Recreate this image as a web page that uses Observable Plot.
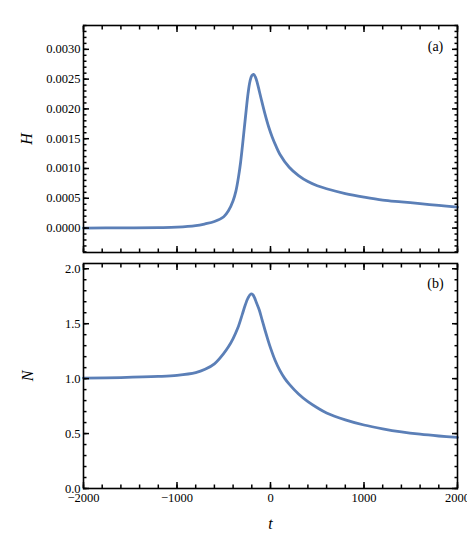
<!DOCTYPE html>
<html>
<head>
<meta charset="utf-8">
<script src="https://cdn.jsdelivr.net/npm/d3@7"></script>
<script src="https://cdn.jsdelivr.net/npm/@observablehq/plot@0.6"></script>
<style>
  html, body { margin: 0; padding: 0; background: #fff; }
  #chart svg { display: block; }
</style>
</head>
<body>
<div id="chart"></div>
<script>
// ---- data ----
const tH = [-2000, -1600, -1200, -1000, -800, -700, -600, -500, -450, -400, -370, -340, -320, -300, -280, -260, -240, -220, -200, -180, -160, -140, -120, -100, -60, -20, 20, 60, 100, 200, 300, 400, 500, 600, 800, 1000, 1200, 1400, 1600, 1800, 2000];
const hVals = [0.0000, 0.000003, 0.000008, 0.000015, 0.00004, 0.00007, 0.00011, 0.00019, 0.00029, 0.00046, 0.00062, 0.00088, 0.00110, 0.00138, 0.00168, 0.00198, 0.00226, 0.00246, 0.00256, 0.00258, 0.00253, 0.00243, 0.00230, 0.00217, 0.00192, 0.00170, 0.00152, 0.00137, 0.00124, 0.00102, 0.00088, 0.00078, 0.00071, 0.00066, 0.00058, 0.00052, 0.00047, 0.00044, 0.00041, 0.00038, 0.00035];

const tN = [-2000, -1600, -1200, -1000, -800, -700, -600, -500, -450, -400, -350, -300, -270, -240, -210, -190, -170, -150, -120, -90, -60, -30, 0, 50, 100, 150, 200, 300, 400, 500, 600, 800, 1000, 1200, 1400, 1600, 1800, 2000];
const nVals = [1.005, 1.01, 1.02, 1.03, 1.055, 1.085, 1.135, 1.23, 1.29, 1.365, 1.46, 1.59, 1.67, 1.735, 1.77, 1.765, 1.735, 1.69, 1.625, 1.535, 1.445, 1.36, 1.28, 1.165, 1.075, 1.005, 0.95, 0.86, 0.79, 0.735, 0.688, 0.625, 0.578, 0.543, 0.515, 0.494, 0.478, 0.465];

const xMajor = [-2000, -1000, 0, 1000, 2000];
const xMinor = d3.range(-2000, 2001, 200);
const hMajor = [0, 0.0005, 0.0010, 0.0015, 0.0020, 0.0025, 0.0030];
const hMinor = d3.range(-4, 35, 1).map(d => d * 0.0001);
const nMajor = [0, 0.5, 1.0, 1.5, 2.0];
const nMinor = d3.range(0, 21, 1).map(d => d * 0.1);

const panelLabels = ["(a)", "(b)"];
const axisLabels = ["H", "N", "t"];

const H = tH.map((t, i) => ({t, v: hVals[i]}));
const N = tN.map((t, i) => ({t, v: nVals[i]}));

const lineColor = "#5b7fb7";
const font = "'Liberation Serif', 'DejaVu Serif', serif";
const W = 467;
const ML = 83, MR = 10;
const xDom = [-2000, 2000];

// inward ticks on all four sides (Mathematica-style frame)
function frameTicks(xMaj, xMin, yMaj, yMin) {
  const big = 6, small = 3.5;
  const s = {stroke: "#000", strokeWidth: 1.5, text: null, label: null, tickPadding: 0, strokeOpacity: 1};
  return [
    Plot.axisX(xMin, {anchor: "bottom", tickSize: small, dy: -small, ...s}),
    Plot.axisX(xMaj, {anchor: "bottom", tickSize: big, dy: -big, ...s}),
    Plot.axisX(xMin, {anchor: "top", tickSize: small, dy: small, ...s}),
    Plot.axisX(xMaj, {anchor: "top", tickSize: big, dy: big, ...s}),
    Plot.axisY(yMin, {anchor: "left", tickSize: small, dx: small, ...s}),
    Plot.axisY(yMaj, {anchor: "left", tickSize: big, dx: big, ...s}),
    Plot.axisY(yMin, {anchor: "right", tickSize: small, dx: -small, ...s}),
    Plot.axisY(yMaj, {anchor: "right", tickSize: big, dx: -big, ...s})
  ];
}

const topH = 257, topMT = 25, topMB = 5;
const hDom = [-0.00041, 0.0034];
const topPlot = Plot.plot({
  width: W,
  height: topH,
  marginLeft: ML,
  marginRight: MR,
  marginTop: topMT,
  marginBottom: topMB,
  style: {fontFamily: font, fontSize: "12.5px", color: "#000", background: "#fff"},
  x: {domain: xDom, axis: null},
  y: {domain: hDom, axis: null},
  marks: [
    Plot.line(H, {x: "t", y: "v", stroke: lineColor, strokeWidth: 2.8, curve: "catmull-rom"}),
    ...frameTicks(xMajor, xMinor, hMajor, hMinor),
    Plot.axisY(hMajor, {anchor: "left", tickSize: 0, tickPadding: 3, tickFormat: d3.format(".4f"), fontSize: 12.5, label: null}),
    Plot.frame({stroke: "#000", strokeWidth: 1.6}),
    Plot.text([axisLabels[0]], {text: d => d, frameAnchor: "left", dx: -57, rotate: -90, fontStyle: "italic", fontSize: 16, textAnchor: "middle", lineAnchor: "middle"}),
    Plot.text([panelLabels[0]], {text: d => d, frameAnchor: "top-right", dx: -22, dy: 21, fontSize: 14, textAnchor: "middle", lineAnchor: "middle"})
  ]
});

const botH = 288, botMT = 6, botMB = 57;
const nDom = [0, 2.048];
const bottomPlot = Plot.plot({
  width: W,
  height: botH,
  marginLeft: ML,
  marginRight: MR,
  marginTop: botMT,
  marginBottom: botMB,
  style: {fontFamily: font, fontSize: "12.5px", color: "#000", background: "#fff"},
  x: {domain: xDom, axis: null},
  y: {domain: nDom, axis: null},
  marks: [
    Plot.line(N, {x: "t", y: "v", stroke: lineColor, strokeWidth: 2.8, curve: "catmull-rom"}),
    ...frameTicks(xMajor, xMinor, nMajor, nMinor),
    Plot.axisY(nMajor, {anchor: "left", tickSize: 0, tickPadding: 3, tickFormat: d3.format(".1f"), fontSize: 12.5, label: null}),
    Plot.axisX(xMajor, {anchor: "bottom", tickSize: 0, tickPadding: 5, tickFormat: d3.format("d"), fontSize: 12.5, label: null}),
    Plot.frame({stroke: "#000", strokeWidth: 1.6}),
    Plot.text([axisLabels[1]], {text: d => d, frameAnchor: "left", dx: -56, rotate: -90, fontStyle: "italic", fontSize: 16, textAnchor: "middle", lineAnchor: "middle"}),
    Plot.text([axisLabels[2]], {text: d => d, frameAnchor: "bottom", dy: 35, fontStyle: "italic", fontSize: 16, textAnchor: "middle", lineAnchor: "middle"}),
    Plot.text([panelLabels[1]], {text: d => d, frameAnchor: "top-right", dx: -22, dy: 20, fontSize: 14, textAnchor: "middle", lineAnchor: "middle"})
  ]
});

const el = document.getElementById("chart");
el.appendChild(topPlot);
el.appendChild(bottomPlot);
</script>
</body>
</html>
